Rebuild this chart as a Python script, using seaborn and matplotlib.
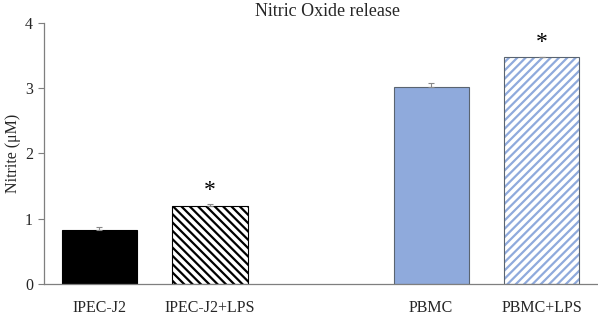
import numpy as np
import pandas as pd
import matplotlib
matplotlib.use("Agg")
import matplotlib.pyplot as plt
import seaborn as sns
from matplotlib.patches import Rectangle

categories = ["IPEC-J2", "IPEC-J2+LPS", " ", "PBMC", "PBMC+LPS"]
values = [0.83, 1.20, np.nan, 3.02, 3.47]
errors = [0.05, 0.02, np.nan, 0.05, 0.01]
significant = [False, True, False, False, True]
yticks = [0, 1, 2, 3, 4]
title = "Nitric Oxide release"
ylabel = "Nitrite (μM)"

sns.set_style("white")
plt.rcParams["font.family"] = ["Liberation Serif", "DejaVu Serif"]
plt.rcParams["hatch.linewidth"] = 1.6

df = pd.DataFrame({"cat": categories, "val": values}).dropna()

fig = plt.figure(figsize=(5.98, 3.15), dpi=100)
ax = fig.add_axes([0.0736, 0.0984, 0.925, 0.8296])
sns.barplot(data=df, x="cat", y="val", order=categories, errorbar=None,
            width=0.68, ax=ax, color="black")

styles = {
    "IPEC-J2": dict(face="black", edge="black", hatch=None),
    "IPEC-J2+LPS": dict(face="white", edge="black", hatch="\\\\\\\\"),
    "PBMC": dict(face="#8FAADC", edge="#5a6470", hatch=None),
    "PBMC+LPS": dict(face="white", edge="#8FAADC", hatch="////"),
}

bars = [p for p in ax.patches if p.get_height() > 0]
for p in bars:
    cx = p.get_x() + p.get_width() / 2
    i = int(round(cx))
    cat = categories[i]
    st = styles[cat]
    p.set_facecolor(st["face"])
    p.set_linewidth(0.8)
    if st["hatch"]:
        p.set_hatch(st["hatch"])
        p.set_edgecolor(st["edge"])
        if cat == "PBMC+LPS":
            p.set_linewidth(0)
            ax.add_patch(Rectangle((p.get_x(), p.get_y()), p.get_width(), p.get_height(),
                                   fill=False, edgecolor="#5a6470", linewidth=0.8, zorder=p.get_zorder() + 0.1))
    else:
        p.set_edgecolor(st["edge"])
    ax.errorbar(cx, values[i], yerr=[[0], [errors[i]]], fmt="none", ecolor="#888888",
                elinewidth=0.8, capsize=2, capthick=0.8, zorder=5)
    if significant[i]:
        ax.text(cx, values[i] + errors[i] + 0.05, "*", ha="center", va="bottom",
                fontsize=17, color="black")

ax.set_ylim(0, 4)
ax.set_xlim(-0.5, len(categories) - 0.5)
ax.set_yticks(yticks)
ax.set_xlabel("")
ax.set_ylabel(ylabel, fontsize=11.5, labelpad=3)
ax.set_title(title, fontsize=13, pad=5, x=0.513)
for s in ["top", "right"]:
    ax.spines[s].set_visible(False)
for s in ["left", "bottom"]:
    ax.spines[s].set_color("#7f7f7f")
    ax.spines[s].set_linewidth(0.9)
ax.tick_params(axis="y", left=True, length=4, width=0.8, color="#7f7f7f", labelsize=11.5, pad=4)
ax.tick_params(axis="x", bottom=False, labelsize=11.5, pad=8)

fig.savefig("out.png", dpi=100)
